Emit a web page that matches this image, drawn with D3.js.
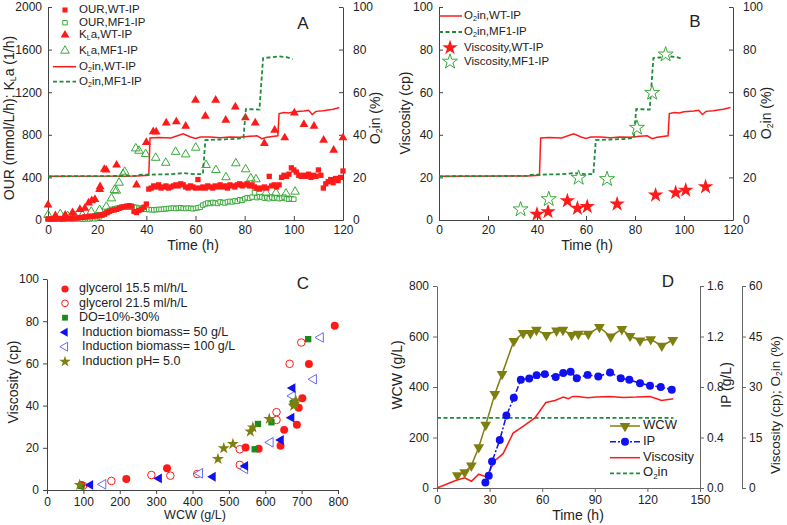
<!DOCTYPE html>
<html><head><meta charset="utf-8">
<script src="https://cdn.jsdelivr.net/npm/d3@7"></script>
<style>body{margin:0;background:#fff}svg{display:block}text{font-family:"Liberation Sans",Arial,sans-serif}</style>
</head><body><svg id="c" width="787" height="525"></svg>
<script>
// ---------- Panel A data ----------
const hoursWT = d3.range(0, 121);
const ourWT = [10,8,12,10,15,12,10,15,18,15,20,18,20,22,25,30,28,35,32,40,
38,45,50,55,70,80,90,95,100,110,120,125,130,135,130,80,70,90,100,120,
150,290,300,320,310,330,300,310,320,300,310,320,330,320,340,330,310,300,320,310,
300,380,300,310,300,320,310,300,320,310,330,310,320,300,330,320,310,330,340,320,
330,340,320,330,310,300,290,300,310,300,410,320,330,310,330,400,420,410,430,490,
470,450,420,410,420,410,430,400,420,410,470,420,300,340,360,380,350,390,370,400,460];
const hoursMF1 = d3.range(0, 101);
const ourMF1 = [10,12,8,10,12,10,8,10,12,10,8,10,12,10,8,10,12,10,15,12,
20,30,45,60,75,90,100,105,110,115,120,122,125,120,124,121,118,112,108,104,
100,98,96,95,97,99,100,102,105,108,110,112,108,112,115,110,108,112,110,105,
110,115,120,140,150,160,155,165,160,155,170,165,160,170,175,170,180,175,190,185,
200,210,205,215,255,210,220,215,205,210,200,215,205,210,200,205,215,200,195,200,195];
const klaWT_t = [0,3,7,10,13,15,16.5,17.8,19.1,21,21.2,22.9,23.7,27.9,36,40,42.8,44,48.1,52.2,56,60,64,68.2,72.3,76.2,80.3,84.3,88,92.2,96.3,100.2,104.1,108.2,112.1,116.2,120];
const klaWT_v = [141,40,47,70,100,110,160,181,194,287,313,476,469,516,329,728,829,828,912,922,881,1125,975,1125,937,1062,960,912,719,844,772,1006,897,881,750,656,772];
const klaMF1_t = [0,5,8,11,14,17.6,21,23.7,25.8,27,27.8,28.9,30.5,31.2,35.7,37,39.7,43.8,47.9,51.9,56,60.1,64.3,68.3,72.4,76.4,80.4,82.5,84.6,88.7,92.7,96.8,100.5];
const klaMF1_v = [47,56,37,37,47,78,94,125,203,281,275,350,431,453,672,650,619,584,537,640,616,679,516,469,401,532,476,391,382,257,255,248,266];
// O2 in (%) traces, shared by panels A and B
const o2WT_t = [0,36,41,41.5,45,50,55,58,60,62,66,70,74,78,82,85,87,89,93.5,94,96,98,100,104,106,107.5,109,112,116,119];
const o2WT_v = [20.5,20.7,21,38.5,38.7,38.5,40.5,39,38.3,39,39,38.6,39,38.8,39.3,39.5,38.2,38.8,39.5,50,50.5,50.2,50.8,51.2,51.5,49.5,51,51.3,52,52.8];
const o2MF1_t = [0,36,37,50,55,60,63,64,70,75,79.5,80.5,83,86,87.5,90,94,97,99.5];
const o2MF1_v = [20.5,20.7,21.2,21.5,22,21.5,21.5,37.5,37.8,38,38.5,52,52,51.8,76,76.3,76.8,76.5,75.5];
// ---------- Panel B data ----------
const visWT_t = [40,44.5,52.4,56.5,60.5,72.7,88.4,96.6,100.7,108.8];
const visWT_v = [2.7,3.9,9,5.5,6.3,7.5,11.7,12.8,14,15.6];
const visMF1_t = [33.3,44.8,57,68.6,80.8,87,92.5];
const visMF1_v = [5,9.8,19.8,19.2,43.3,59.7,77.7];
// ---------- Panel C data (WCW g/L, viscosity cp) ----------
const gly155_w = [94,218,330,546,582,642,652,687,692,702,720,791];
const gly155_v = [2.4,5.2,10.3,20.1,19.5,21,28.5,30.9,39,43.5,59.7,77.8];
const gly215_w = [99,177,287,339,413,530,530,631,631,667,699];
const gly215_v = [2,4.3,7.1,6.8,7.6,11.9,19.3,36.9,33.2,59.8,69.9];
const do_w = [94,571,580,617,676,718];
const do_v = [1.9,19.3,31.3,32.1,41.1,71.5];
const bio50_w = [119,308,456,545,643,672,675];
const bio50_v = [2.4,5.5,6.3,11.4,23.7,34.3,48.3];
const bio100_w = [154,420,544,614,675,733,752];
const bio100_v = [2.7,7.9,10,22.6,44.6,52.5,72.3];
const ph5_w = [90,470,486,511,559,566,611,678,684,681];
const ph5_v = [2.4,14.7,19.8,21.8,27.7,29.7,33.7,39.9,42.4,41];
// ---------- Panel D data ----------
const wcw_t = [11.6,15.8,19.6,23.8,27.8,33,37.1,43.8,49.1,53.3,56.7,62.4,68.2,71.8,76.8,80.6,86.3,92.6,99.1,105.4,110.1,115.8,121.9,128.2,134.5];
const wcw_v = [50,62,89,161,250,372,451,582,613,613,626,606,623,626,606,610,610,637,600,629,602,584,589,563,586];
const ip_t = [27.6,29.5,31.4,35.8,39.6,43.8,47.8,52.6,56.8,61.5,67.7,72,76.2,79.7,85.9,92,98.7,104.8,109.7,115.8,121.5,127.6,133.9];
const ip_v = [0.044,0.097,0.21,0.38,0.574,0.714,0.857,0.867,0.894,0.902,0.88,0.91,0.92,0.87,0.896,0.883,0.915,0.87,0.857,0.83,0.81,0.8,0.778];
const visD_t = [0,11,15.8,19.6,23.8,28.2,33,37.7,43.4,49.1,55.8,62.1,67.3,72,74.9,77.5,80,86,91,98.6,106.2,113.8,121.5,128.1,134.8];
const visD_v = [0,2.3,3.0,2.0,4.1,3.3,8.1,10.2,16.3,18.3,20.8,25.4,26,27,26.5,27.2,27.2,26.8,27,27.2,26.9,27,27.2,26,26.5];
const o2D_t = [0,134.8];
const o2D_v = [20.8,20.8];

const RED = "#ff1a1a", GREEN = "#1e8c3c", GREENO = "#3aaa3a", BLUE = "#1010f0", BLUEO = "#6a6af0", OLIVE = "#7f7f10";
const svg = d3.select("#c");
svg.append("rect").attr("width",787).attr("height",525).attr("fill","#fff");
const zip = (a,b) => a.map((x,i)=>[x,b[i]]);

function sym(g, data, x, y, type, size, fill, stroke, rot) {
  const p = d3.symbol().type(type).size(size)();
  g.selectAll(null).data(data).enter().append("path").attr("d", p)
    .attr("transform", d => `translate(${x(d[0])},${y(d[1])}) rotate(${rot||0})`)
    .attr("fill", fill).attr("stroke", stroke).attr("stroke-width", 1);
}
function line(g, data, x, y, color, dash, w) {
  g.append("path").datum(data).attr("d", d3.line().x(d=>x(d[0])).y(d=>y(d[1])))
    .attr("fill","none").attr("stroke",color).attr("stroke-width",w||1.5).attr("stroke-dasharray",dash||null);
}
function styleAxis(sel, color) {
  sel.selectAll("path,line").attr("stroke", color||"#444");
  sel.selectAll("text").attr("font-size",12).attr("fill","#222").attr("font-family",'"Liberation Sans",Arial');
}
function txt(x, y, s, size, anchor, rot) {
  const t = svg.append("text").attr("x",x).attr("y",y).attr("font-size",size).attr("fill","#222")
    .attr("text-anchor",anchor||"start").attr("dominant-baseline","middle");
  if (rot) t.attr("transform",`rotate(${rot},${x},${y})`);
  if (s) t.text(s);
  return t;
}
// parts: strings (normal) or {s} (subscript)
function sub(t, parts, size) {
  let pend = 0;
  parts.forEach(p => {
    if (typeof p === "string") {
      const ts = t.append("tspan").text(p);
      if (pend) ts.attr("dy", pend);
      pend = 0;
    } else {
      t.append("tspan").attr("font-size",size*0.62).attr("dy",size*0.3 + pend).text(p.s);
      pend = -size*0.3;
    }
  });
  return t;
}
const fmtInt = d3.format("d");
function frameAB(x0,x1,yT,yB,xd,yd,rd,leftTicks,rightTicks,xTicks){
  const x = d3.scaleLinear().domain(xd).range([x0,x1]);
  const y = d3.scaleLinear().domain(yd).range([yB,yT]);
  const yr = d3.scaleLinear().domain(rd).range([yB,yT]);
  styleAxis(svg.append("g").attr("transform",`translate(0,${yB})`)
    .call(d3.axisBottom(x).tickValues(xTicks).tickSize(-4).tickSizeOuter(0).tickPadding(5).tickFormat(fmtInt)));
  styleAxis(svg.append("g").attr("transform",`translate(${x0},0)`)
    .call(d3.axisLeft(y).tickValues(leftTicks).tickSize(-4).tickSizeOuter(0).tickPadding(6).tickFormat(fmtInt)));
  styleAxis(svg.append("g").attr("transform",`translate(${x1},0)`)
    .call(d3.axisRight(yr).tickValues(rightTicks).tickSize(-4).tickSizeOuter(0).tickPadding(10).tickFormat(fmtInt)));
  return {x,y,yr};
}

// ================= Panel A =================
{
  const {x,y,yr} = frameAB(48,343,7,220,[0,120],[0,2000],[0,100],d3.range(0,2001,400),d3.range(0,101,20),d3.range(0,121,20));
  const g = svg.append("g");
  sym(g, zip(hoursMF1,ourMF1), x, y, d3.symbolSquare, 20, "#fff", GREENO);
  sym(g, zip(klaMF1_t,klaMF1_v), x, y, d3.symbolTriangle, 32, "none", GREENO);
  sym(g, zip(hoursWT,ourWT), x, y, d3.symbolSquare, 28, RED, "none");
  sym(g, zip(klaWT_t,klaWT_v), x, y, d3.symbolTriangle, 34, RED, "none");
  line(g, zip(o2WT_t.slice(0,-1).concat([118.5]), o2WT_v), x, yr, RED);
  line(g, zip(o2MF1_t,o2MF1_v), x, yr, GREEN, "4,2.5", 1.8);
  // legend
  const L = svg.append("g");
  const rows = [10,22.7,35,50.7,66.7,81.7];
  L.append("path").attr("d",d3.symbol().type(d3.symbolSquare).size(26)()).attr("transform",`translate(65,${rows[0]})`).attr("fill",RED);
  L.append("path").attr("d",d3.symbol().type(d3.symbolSquare).size(20)()).attr("transform",`translate(65,${rows[1]})`).attr("fill","#fff").attr("stroke",GREENO);
  L.append("path").attr("d",d3.symbol().type(d3.symbolTriangle).size(34)()).attr("transform",`translate(65,${rows[2]})`).attr("fill",RED);
  L.append("path").attr("d",d3.symbol().type(d3.symbolTriangle).size(32)()).attr("transform",`translate(65,${rows[3]})`).attr("fill","none").attr("stroke",GREENO);
  L.append("line").attr("x1",53).attr("x2",76).attr("y1",rows[4]).attr("y2",rows[4]).attr("stroke",RED).attr("stroke-width",1.5);
  L.append("line").attr("x1",53).attr("x2",76).attr("y1",rows[5]).attr("y2",rows[5]).attr("stroke",GREEN).attr("stroke-width",1.8).attr("stroke-dasharray","4,2.5");
  txt(79,rows[0],"OUR,WT-IP",11.5);
  txt(79,rows[1],"OUR,MF1-IP",11.5);
  sub(txt(79,rows[2],"",11.5),["K",{s:"L"},"a,WT-IP"],11.5);
  sub(txt(79,rows[3],"",11.5),["K",{s:"L"},"a,MF1-IP"],11.5);
  sub(txt(79,rows[4],"",11.5),["O",{s:"2"},"in,WT-IP"],11.5);
  sub(txt(79,rows[5],"",11.5),["O",{s:"2"},"in,MF1-IP"],11.5);
  txt(303,25,"A",17,"middle");
  txt(193,246,"Time (h)",14,"middle");
  sub(txt(10,118,"",14,"middle",-90),["OUR (mmol/L/h); K",{s:"L"},"a (1/h)"],14);
  sub(txt(376,118,"",14,"middle",-90),["O",{s:"2"},"in (%)"],14);
}
// ================= Panel B =================
{
  const {x,y,yr} = frameAB(439,733,7,220,[0,120],[0,100],[0,100],d3.range(0,101,20),d3.range(0,101,20),d3.range(0,121,20));
  const g = svg.append("g");
  line(g, zip(o2WT_t,o2WT_v), x, yr, RED);
  line(g, zip(o2MF1_t,o2MF1_v), x, yr, GREEN, "4,2.5", 1.8);
  sym(g, zip(visWT_t,visWT_v), x, y, d3.symbolStar, 75, RED, "none");
  sym(g, zip(visMF1_t,visMF1_v), x, y, d3.symbolStar, 70, "#fff", GREENO);
  const rows = [16,32,47.7,61.7];
  svg.append("line").attr("x1",439).attr("x2",462).attr("y1",rows[0]).attr("y2",rows[0]).attr("stroke",RED).attr("stroke-width",1.5);
  svg.append("line").attr("x1",439).attr("x2",462).attr("y1",rows[1]).attr("y2",rows[1]).attr("stroke",GREEN).attr("stroke-width",1.8).attr("stroke-dasharray","4,2.5");
  svg.append("path").attr("d",d3.symbol().type(d3.symbolStar).size(75)()).attr("transform",`translate(450,${rows[2]})`).attr("fill",RED);
  svg.append("path").attr("d",d3.symbol().type(d3.symbolStar).size(70)()).attr("transform",`translate(450,${rows[3]})`).attr("fill","#fff").attr("stroke",GREENO);
  sub(txt(464,rows[0],"",11.5),["O",{s:"2"},"in,WT-IP"],11.5);
  sub(txt(464,rows[1],"",11.5),["O",{s:"2"},"in,MF1-IP"],11.5);
  txt(464,rows[2],"Viscosity,WT-IP",11.5);
  txt(464,rows[3],"Viscosity,MF1-IP",11.5);
  txt(695,23,"B",17,"middle");
  txt(587,246,"Time (h)",14,"middle");
  txt(406,113,"Viscosity (cp)",14,"middle",-90);
  sub(txt(767,113,"",14,"middle",-90),["O",{s:"2"},"in (%)"],14);
}
// ================= Panel C =================
{
  const x = d3.scaleLinear().domain([0,800]).range([47,338]);
  const y = d3.scaleLinear().domain([0,100]).range([490,279]);
  styleAxis(svg.append("g").attr("transform","translate(0,490)").call(d3.axisBottom(x).tickValues(d3.range(0,801,100)).tickSize(4).tickSizeOuter(0).tickPadding(3)));
  styleAxis(svg.append("g").attr("transform","translate(47,0)").call(d3.axisLeft(y).tickValues(d3.range(0,101,20)).tickSize(4).tickSizeOuter(0).tickPadding(4)));
  const g = svg.append("g");
  sym(g, zip(gly215_w,gly215_v), x, y, d3.symbolCircle, 45, "#fff", RED);
  sym(g, zip(bio100_w,bio100_v), x, y, d3.symbolTriangle, 40, "#fff", BLUEO, -90);
  sym(g, zip(gly155_w,gly155_v), x, y, d3.symbolCircle, 50, RED, "none");
  sym(g, zip(do_w,do_v), x, y, d3.symbolSquare, 40, "#1a8a1a", "none");
  sym(g, zip(bio50_w,bio50_v), x, y, d3.symbolTriangle, 42, BLUE, "none", -90);
  sym(g, zip(ph5_w,ph5_v), x, y, d3.symbolStar, 45, OLIVE, "none");
  const rows = [289,303.3,317.7,332.3,346.7,361.7];
  const L = svg.append("g");
  const mk = (t,s,f,st,r,row) => L.append("path").attr("d",d3.symbol().type(t).size(s)()).attr("transform",`translate(65,${rows[row]}) rotate(${r})`).attr("fill",f).attr("stroke",st);
  mk(d3.symbolCircle,40,RED,"none",0,0);
  mk(d3.symbolCircle,35,"#fff",RED,0,1);
  mk(d3.symbolSquare,34,"#1a8a1a","none",0,2);
  mk(d3.symbolTriangle,36,BLUE,"none",-90,3);
  mk(d3.symbolTriangle,34,"#fff",BLUEO,-90,4);
  mk(d3.symbolStar,40,OLIVE,"none",0,5);
  txt(79,rows[0],"glycerol 15.5 ml/h/L",12.5);
  txt(79,rows[1],"glycerol 21.5 ml/h/L",12.5);
  txt(79,rows[2],"DO=10%-30%",12.5);
  txt(82,rows[3],"Induction biomass= 50 g/L",12.5);
  txt(82,rows[4],"Induction biomass= 100 g/L",12.5);
  txt(82,rows[5],"Induction pH= 5.0",12.5);
  txt(303,285,"C",17,"middle");
  txt(195,516,"WCW (g/L)",12.5,"middle");
  txt(14,382,"Viscosity (cp)",14,"middle",-90);
}
// ================= Panel D =================
{
  const x = d3.scaleLinear().domain([0,150]).range([437,700]);
  const y = d3.scaleLinear().domain([0,800]).range([488,286]);
  const yIP = d3.scaleLinear().domain([0,1.6]).range([488,286]);
  const yV = d3.scaleLinear().domain([0,60]).range([488,286]);
  const AC = "#666";
  styleAxis(svg.append("g").attr("transform","translate(0,488)").call(d3.axisBottom(x).tickValues(d3.range(0,151,30)).tickSize(4).tickSizeOuter(0).tickPadding(3)),AC);
  styleAxis(svg.append("g").attr("transform","translate(437,0)").call(d3.axisLeft(y).tickValues(d3.range(0,801,200)).tickSize(4).tickSizeOuter(0).tickPadding(4)),AC);
  styleAxis(svg.append("g").attr("transform","translate(700,0)").call(d3.axisRight(yIP).tickValues([0,0.4,0.8,1.2,1.6]).tickSize(4).tickSizeOuter(0).tickPadding(3).tickFormat(d3.format(".1f"))),AC);
  styleAxis(svg.append("g").attr("transform","translate(742,0)").call(d3.axisRight(yV).tickValues([0,15,30,45,60]).tickSize(4).tickSizeOuter(0).tickPadding(3)),AC);
  const g = svg.append("g");
  line(g, zip(o2D_t,o2D_v), x, yV, GREEN, "4,2.5", 1.8);
  line(g, zip(visD_t,visD_v), x, yV, RED, null, 1.5);
  line(g, zip(wcw_t,wcw_v), x, y, OLIVE, null, 1.5);
  sym(g, zip(wcw_t,wcw_v), x, y, d3.symbolTriangle, 50, OLIVE, "none", 180);
  line(g, zip(ip_t,ip_v), x, yIP, BLUE, "6,2,2,2", 1.5);
  sym(g, zip(ip_t,ip_v), x, yIP, d3.symbolCircle, 50, BLUE, "none");
  const rows = [426,441.7,457.7,473.3];
  svg.append("line").attr("x1",610).attr("x2",640).attr("y1",rows[0]).attr("y2",rows[0]).attr("stroke",OLIVE).attr("stroke-width",1.5);
  svg.append("path").attr("d",d3.symbol().type(d3.symbolTriangle).size(50)()).attr("transform",`translate(625,${rows[0]}) rotate(180)`).attr("fill",OLIVE);
  svg.append("line").attr("x1",610).attr("x2",640).attr("y1",rows[1]).attr("y2",rows[1]).attr("stroke",BLUE).attr("stroke-width",1.5).attr("stroke-dasharray","6,2,2,2");
  svg.append("path").attr("d",d3.symbol().type(d3.symbolCircle).size(50)()).attr("transform",`translate(625,${rows[1]})`).attr("fill",BLUE);
  svg.append("line").attr("x1",610).attr("x2",640).attr("y1",rows[2]).attr("y2",rows[2]).attr("stroke",RED).attr("stroke-width",1.5);
  svg.append("line").attr("x1",610).attr("x2",640).attr("y1",rows[3]).attr("y2",rows[3]).attr("stroke",GREEN).attr("stroke-width",1.8).attr("stroke-dasharray","4,2.5");
  txt(643,rows[0],"WCW",13);
  txt(643,rows[1],"IP",13);
  txt(643,rows[2],"Viscosity",13);
  sub(txt(643,rows[3],"",13),["O",{s:"2"},"in"],13);
  txt(668,283,"D",17,"middle");
  txt(578,516,"Time (h)",14,"middle");
  txt(398,375,"WCW (g/L)",14,"middle",-90);
  txt(727,385,"IP (g/L)",14,"middle",-90);
  sub(txt(776,405,"",13.5,"middle",-90),["Viscosity (cp); O",{s:"2"},"in (%)"],13.5);
}
</script></body></html>
